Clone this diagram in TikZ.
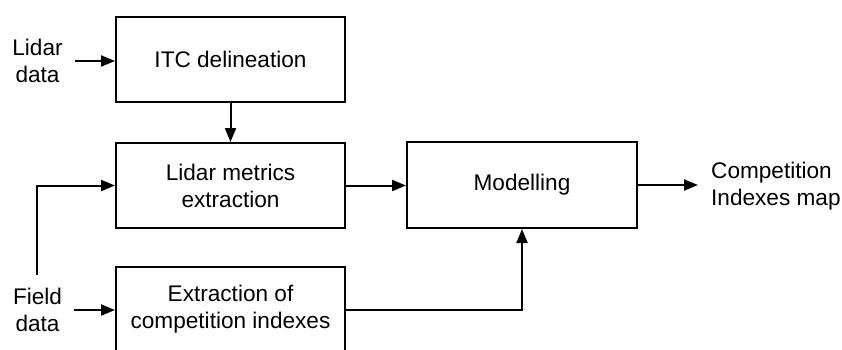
\documentclass[tikz,border=0pt]{standalone}
\usepackage{fontspec}
\setmainfont{Liberation Sans}
\usetikzlibrary{arrows.meta}
\begin{document}
\begin{tikzpicture}[x=1pt,y=-1pt,
  box/.style={draw,line width=2pt,minimum width=229pt,minimum height=85pt,align=center,inner sep=0pt},
  lbl/.style={align=center,inner xsep=12pt,inner ysep=0pt},
  arr/.style={line width=2pt,-{Triangle[length=14pt,width=11pt]}},
  font=\fontsize{22.6}{27}\selectfont]
\useasboundingbox (0,0) rectangle (842,349);
\clip (0,0) rectangle (842,349);
\node[box] (itc) at (230.5,59.5) {ITC delineation};
\node[box] (lme) at (230.5,185.5) {Lidar metrics\\extraction};
\node[box] (ext) at (230.5,309.5) {Extraction of\\competition indexes};
\node[box,minimum width=230pt,minimum height=86pt] (mod) at (522,185) {Modelling};
\node[lbl] (lidar) at (37.5,61) {Lidar\\data};
\node[lbl] (field) at (37.5,310) {Field\\data};
\node[align=left,anchor=west,inner sep=0pt] (outtxt) at (711,186.5) {Competition\\Indexes map};
\coordinate (fstart) at (37,275);
\coordinate (outend) at (698,185);
\draw[arr] (lidar.east) -- (lidar.east -| itc.west);
\draw[arr] (field.east) -- (field.east -| ext.west);
\draw[arr] (itc.south) -- (lme.north);
\draw[arr] (fstart) |- (lme.west);
\draw[arr] (lme.east) -- (lme.east -| mod.west);
\draw[arr] (ext.east) -| (mod.south);
\draw[arr] (mod.east) -- (outend);
\end{tikzpicture}
\end{document}
